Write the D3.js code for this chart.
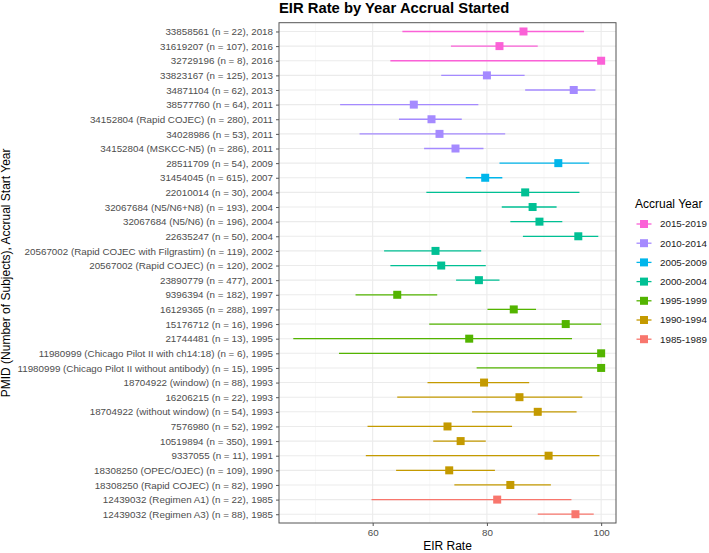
<html>
<script src='https://d3js.org/d3.v7.min.js'></script>
<div id="dataviz"></div>

<body onload='init()' style="margin:0">

<script>

var studies = [
  "33858561 (n = 22), 2018",
  "31619207 (n = 107), 2016",
  "32729196 (n = 8), 2016",
  "33823167 (n = 125), 2013",
  "34871104 (n = 62), 2013",
  "38577760 (n = 64), 2011",
  "34152804 (Rapid COJEC) (n = 280), 2011",
  "34028986 (n = 53), 2011",
  "34152804 (MSKCC-N5) (n = 286), 2011",
  "28511709 (n = 54), 2009",
  "31454045 (n = 615), 2007",
  "22010014 (n = 30), 2004",
  "32067684 (N5/N6+N8) (n = 193), 2004",
  "32067684 (N5/N6) (n = 196), 2004",
  "22635247 (n = 50), 2004",
  "20567002 (Rapid COJEC with Filgrastim) (n = 119), 2002",
  "20567002 (Rapid COJEC) (n = 120), 2002",
  "23890779 (n = 477), 2001",
  "9396394 (n = 182), 1997",
  "16129365 (n = 288), 1997",
  "15176712 (n = 16), 1996",
  "21744481 (n = 13), 1995",
  "11980999 (Chicago Pilot II with ch14:18) (n = 6), 1995",
  "11980999 (Chicago Pilot II without antibody) (n = 15), 1995",
  "18704922 (window) (n = 88), 1993",
  "16206215 (n = 22), 1993",
  "18704922 (without window) (n = 54), 1993",
  "7576980 (n = 52), 1992",
  "10519894 (n = 350), 1991",
  "9337055 (n = 11), 1991",
  "18308250 (OPEC/OJEC) (n = 109), 1990",
  "18308250 (Rapid COJEC) (n = 82), 1990",
  "12439032 (Regimen A1) (n = 22), 1985",
  "12439032 (Regimen A3) (n = 88), 1985"
];

var eirRate = [86.4, 82.2, 100, 80.0, 95.2, 67.2, 70.3, 71.7, 74.5, 92.5, 79.7, 86.7,
               88.0, 89.2, 96.0, 71.0, 72.0, 78.6, 64.3, 84.7, 93.8, 76.9, 100, 100,
               79.5, 85.7, 88.9, 73.1, 75.4, 90.8, 73.4, 84.1, 81.8, 95.5];

var lowerCI = [65.2, 73.7, 63.1, 72.0, 86.7, 54.3, 64.6, 57.7, 69.0, 82.2, 76.3, 69.4,
               82.6, 84.1, 86.3, 62.0, 63.1, 74.6, 57.0, 80.1, 69.9, 46.1, 54.1, 78.2,
               69.6, 64.3, 77.4, 59.1, 70.6, 58.8, 64.1, 74.3, 59.8, 88.9];

var upperCI = [97.0, 88.9, 100, 86.6, 99.0, 78.5, 75.6, 83.2, 79.4, 97.9, 82.7, 96.2,
               92.2, 93.2, 99.5, 79.0, 79.8, 82.2, 71.3, 88.6, 100, 94.9, 100, 100,
               87.4, 96.7, 95.7, 84.4, 79.8, 99.7, 81.4, 91.2, 94.8, 98.7];

var accrualYear = ["2015-2019", "2015-2019", "2015-2019",
                   "2010-2014", "2010-2014", "2010-2014", "2010-2014", "2010-2014", "2010-2014",
                   "2005-2009", "2005-2009",
                   "2000-2004", "2000-2004", "2000-2004", "2000-2004", "2000-2004", "2000-2004", "2000-2004",
                   "1995-1999", "1995-1999", "1995-1999", "1995-1999", "1995-1999", "1995-1999",
                   "1990-1994", "1990-1994", "1990-1994", "1990-1994", "1990-1994", "1990-1994", "1990-1994", "1990-1994",
                   "1985-1989", "1985-1989"];

var groups = ["2015-2019", "2010-2014", "2005-2009", "2000-2004", "1995-1999", "1990-1994", "1985-1989"];
var groupColors = ["#FB61D7", "#A58AFF", "#00B6EB", "#00C094", "#53B400", "#C49A00", "#F8766D"];

var xMajor = [60, 80, 100];
var xMinor = [50, 70, 90];

function init() {

  var width = 709;
  var height = 553;
  var font = "'Liberation Sans', Arial, sans-serif";

  var panel = {left: 279, right: 616, top: 22.7, bottom: 523};

  var data = studies.map(function(s, i) {
    return {study: s, est: eirRate[i], lo: lowerCI[i], hi: upperCI[i], grp: accrualYear[i]};
  });

  var x = d3.scaleLinear().domain([43.6, 102.6]).range([panel.left, panel.right]);
  var y = d3.scalePoint().domain(studies).range([panel.top, panel.bottom]).padding(0.6);
  var color = d3.scaleOrdinal().domain(groups).range(groupColors);

  var svg = d3.select("#dataviz")
    .append("svg")
      .attr("width", width)
      .attr("height", height)
      .style("background", "white");

  // panel background + grid
  svg.append("rect")
    .attr("x", panel.left).attr("y", panel.top)
    .attr("width", panel.right - panel.left).attr("height", panel.bottom - panel.top)
    .attr("fill", "white");

  svg.append("g").selectAll("line")
    .data(xMinor)
    .enter().append("line")
      .attr("x1", function(d) { return x(d); })
      .attr("x2", function(d) { return x(d); })
      .attr("y1", panel.top).attr("y2", panel.bottom)
      .attr("stroke", "#F2F2F2").attr("stroke-width", 0.6);

  svg.append("g").selectAll("line")
    .data(xMajor)
    .enter().append("line")
      .attr("x1", function(d) { return x(d); })
      .attr("x2", function(d) { return x(d); })
      .attr("y1", panel.top).attr("y2", panel.bottom)
      .attr("stroke", "#EBEBEB").attr("stroke-width", 1.1);

  svg.append("g").selectAll("line")
    .data(studies)
    .enter().append("line")
      .attr("x1", panel.left).attr("x2", panel.right)
      .attr("y1", function(d) { return y(d); })
      .attr("y2", function(d) { return y(d); })
      .attr("stroke", "#EBEBEB").attr("stroke-width", 1.1);

  // error bars
  svg.append("g").selectAll("line")
    .data(data)
    .enter().append("line")
      .attr("x1", function(d) { return x(d.lo); })
      .attr("x2", function(d) { return x(d.hi); })
      .attr("y1", function(d) { return y(d.study); })
      .attr("y2", function(d) { return y(d.study); })
      .attr("stroke", function(d) { return color(d.grp); })
      .attr("stroke-width", 1.3);

  // points
  var sq = 8;
  svg.append("g").selectAll("rect")
    .data(data)
    .enter().append("rect")
      .attr("x", function(d) { return x(d.est) - sq / 2; })
      .attr("y", function(d) { return y(d.study) - sq / 2; })
      .attr("width", sq).attr("height", sq)
      .attr("fill", function(d) { return color(d.grp); });

  // panel border
  svg.append("rect")
    .attr("x", panel.left).attr("y", panel.top)
    .attr("width", panel.right - panel.left).attr("height", panel.bottom - panel.top)
    .attr("fill", "none")
    .attr("stroke", "#555").attr("stroke-width", 1);

  // axes
  var yAxis = svg.append("g")
    .attr("transform", "translate(" + panel.left + ",0)")
    .call(d3.axisLeft(y).tickSize(3).tickPadding(3));
  yAxis.select(".domain").remove();
  yAxis.selectAll("line").attr("stroke", "#555");
  yAxis.selectAll("text")
    .style("font-family", font)
    .style("font-size", "9.8px")
    .attr("fill", "#4D4D4D");

  var xAxis = svg.append("g")
    .attr("transform", "translate(0," + panel.bottom + ")")
    .call(d3.axisBottom(x).tickValues(xMajor).tickSize(3).tickPadding(3));
  xAxis.select(".domain").remove();
  xAxis.selectAll("line").attr("stroke", "#555");
  xAxis.selectAll("text")
    .style("font-family", font)
    .style("font-size", "9.8px")
    .attr("fill", "#4D4D4D");

  // titles
  svg.append("text")
    .attr("x", panel.left)
    .attr("y", 13)
    .style("font-family", font)
    .style("font-size", "14.8px")
    .style("font-weight", "bold")
    .text("EIR Rate by Year Accrual Started");

  svg.append("text")
    .attr("x", (panel.left + panel.right) / 2)
    .attr("y", 550)
    .style("text-anchor", "middle")
    .style("font-family", font)
    .style("font-size", "12px")
    .text("EIR Rate");

  svg.append("text")
    .attr("transform", "translate(10," + (panel.top + panel.bottom) / 2 + ") rotate(-90)")
    .style("text-anchor", "middle")
    .style("font-family", font)
    .style("font-size", "12px")
    .text("PMID (Number of Subjects), Accrual Start Year");

  // legend
  var legend = svg.append("g");
  legend.append("text")
    .attr("x", 635).attr("y", 208)
    .style("font-family", font)
    .style("font-size", "12px")
    .text("Accrual Year");

  var keys = legend.selectAll(".key")
    .data(groups)
    .enter().append("g")
      .attr("class", "key")
      .attr("transform", function(d, i) { return "translate(644," + (224 + i * 19.2) + ")"; });

  keys.append("line")
    .attr("x1", -7.5).attr("x2", 7.5)
    .attr("stroke", function(d) { return color(d); })
    .attr("stroke-width", 1.3);
  keys.append("rect")
    .attr("x", -sq / 2).attr("y", -sq / 2)
    .attr("width", sq).attr("height", sq)
    .attr("fill", function(d) { return color(d); });
  keys.append("text")
    .attr("x", 16).attr("dy", "0.35em")
    .style("font-family", font)
    .style("font-size", "9.8px")
    .attr("fill", "#1A1A1A")
    .text(function(d) { return d; });
}
</script>
</body>
</html>
